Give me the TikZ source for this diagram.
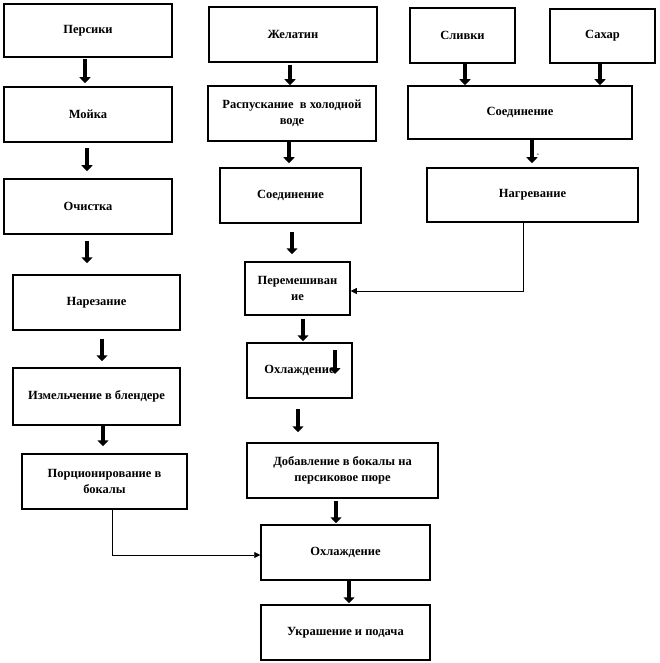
\documentclass[tikz,border=0pt]{standalone}
\usepackage{fontspec}
\setmainfont{Liberation Serif}
\usetikzlibrary{arrows.meta,shadows}
\begin{document}
\begin{tikzpicture}[x=1pt,y=-1pt,
  box/.style={draw,fill=white,line width=1.5pt,inner sep=1pt,align=center,
    font=\rmfamily\bfseries\fontsize{12.5}{16}\selectfont,
    drop shadow={shadow xshift=1pt,shadow yshift=-1pt,fill=black!45,opacity=0.6}},
  big/.style={line width=3.6pt,-{Triangle[width=11pt,length=6pt]}},
  thinarr/.style={line width=0.7pt,-{Triangle[width=6pt,length=6pt]}}]
\useasboundingbox (0,0) rectangle (659,663);
% left column
\node[box,minimum width=168pt,minimum height=53pt] (P1) at (88,30.5) {Персики};
\node[box,minimum width=168pt,minimum height=55pt] (P2) at (88,114.5) {Мойка};
\node[box,minimum width=168pt,minimum height=55pt] (P3) at (88,206.5) {Очистка};
\node[box,minimum width=167pt,minimum height=55pt] (P4) at (96.5,302.5) {Нарезание};
\node[box,minimum width=167pt,minimum height=57pt] (P5) at (96.5,396.5) {Измельчение в блендере};
\node[box,minimum width=165pt,minimum height=55pt] (P6) at (104.5,481.5) {Порционирование в\\бокалы};
% middle column
\node[box,minimum width=168pt,minimum height=55pt] (M1) at (293,34.5) {Желатин};
\node[box,minimum width=168pt,minimum height=55pt] (M2) at (292,113.5) {Распускание \ в холодной\\воде};
\node[box,minimum width=141pt,minimum height=55pt] (M3) at (290.5,195.5) {Соединение};
\node[box,minimum width=105pt,minimum height=53pt] (M4) at (297.5,288.5) {Перемешиван\\ие};
\node[box,minimum width=105pt,minimum height=55pt] (M5) at (299.5,370.5) {Охлаждение};
\node[box,minimum width=191pt,minimum height=55pt] (M6) at (342.5,470.5) {Добавление в бокалы на\\персиковое пюре};
\node[box,minimum width=169pt,minimum height=55pt] (M7) at (345.5,552.5) {Охлаждение};
\node[box,minimum width=169pt,minimum height=55pt] (M8) at (345.5,632.5) {Украшение и подача};
% right column
\node[box,minimum width=105pt,minimum height=55pt] (R1) at (462.5,35.5) {Сливки};
\node[box,minimum width=105pt,minimum height=54pt] (R2) at (602.5,36) {Сахар};
\node[box,minimum width=224pt,minimum height=53pt] (R3) at (520,112.5) {Соединение};
\node[box,minimum width=211pt,minimum height=54pt] (R4) at (532.5,195) {Нагревание};
\node[font=\rmfamily\fontsize{8}{9}\selectfont,inner sep=0pt] (dash) at (538,155) {-};
% thick arrows
\draw[big,shorten <=1pt,shorten >=3pt] (P1.south -| 85,0) -- (P2.north -| 85,0);
\draw[big,shorten <=5pt,shorten >=7pt] (P2.south -| 87,0) -- (P3.north -| 87,0);
\draw[big,shorten <=6pt,shorten >=11pt] (P3.south -| 87,0) -- (P4.north -| 87,0);
\draw[big,shorten <=8pt,shorten >=6pt] (P4.south -| 102,0) -- (P5.north -| 102,0);
\draw[big,shorten >=7pt] (P5.south -| 103,0) -- (P6.north -| 103,0);
\draw[big,shorten <=2pt] (M1.south -| 290,0) -- (M2.north -| 290,0);
\draw[big,shorten >=4pt] (M2.south -| 289,0) -- (M3.north -| 289,0);
\draw[big,shorten <=8pt,shorten >=7pt] (M3.south -| 292,0) -- (M4.north -| 292,0);
\draw[big,shorten <=3pt,shorten >=1pt] (M4.south -| 303,0) -- (M5.north -| 303,0);
\coordinate (m5a) at (335,350);
\coordinate (m5b) at (335,374);
\draw[big] (m5a) -- (m5b);
\draw[big,shorten <=10pt,shorten >=10pt] (M5.south -| 298,0) -- (M6.north -| 298,0);
\draw[big,shorten <=2pt,shorten >=1pt] (M6.south -| 336,0) -- (M7.north -| 336,0);
\draw[big,shorten >=1pt] (M7.south -| 349,0) -- (M8.north -| 349,0);
\draw[big] (R1.south -| 465,0) -- (R3.north -| 465,0);
\draw[big] (R2.south -| 600,0) -- (R3.north -| 600,0);
\draw[big,shorten >=4pt] (R3.south -| 532,0) -- (R4.north -| 532,0);
% thin connectors
\draw[thinarr] (R4.south -| 523,0) |- ([yshift=-2.5pt]M4.east);
\draw[thinarr] (P6.south -| 112,0) |- ([yshift=-2.5pt]M7.west);
\end{tikzpicture}
\end{document}
